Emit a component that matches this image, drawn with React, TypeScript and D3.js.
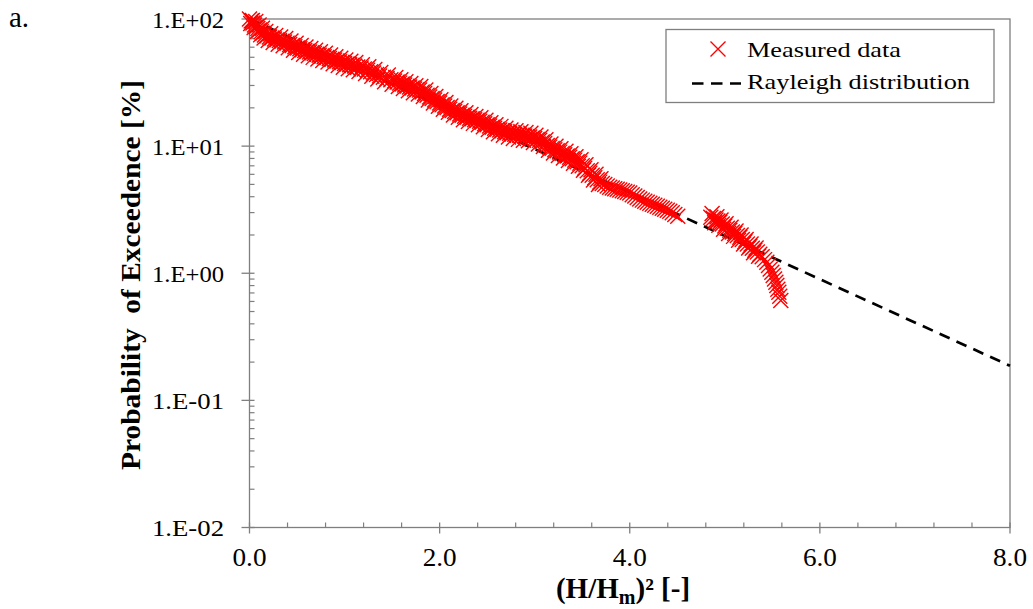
import React from 'react';
import * as d3 from 'd3';

// Measured data, record A: [ (H/Hm)^2 , probability of exceedence % ]
const measuredA: [number, number][] = [
  [0.000,100],[0.018,96.4],[0.036,92.9],[0.053,89.7],[0.071,86.9],[0.088,84.3],[0.105,81.8],[0.123,79.4],[0.140,77.1],[0.158,74.8],
  [0.184,73.5],[0.210,72.1],[0.236,71.0],[0.263,69.7],[0.289,68.7],[0.315,67.8],[0.341,66.8],[0.368,65.9],[0.395,64.6],[0.423,63.1],
  [0.450,61.8],[0.477,60.5],[0.505,59.2],[0.530,58.3],[0.556,57.4],[0.581,56.6],[0.606,55.8],[0.632,55.0],[0.657,54.2],[0.682,53.5],
  [0.707,52.7],[0.733,51.9],[0.758,51.2],[0.785,50.5],[0.813,49.7],[0.840,49.0],[0.867,48.2],[0.895,47.5],[0.921,46.8],[0.947,46.1],
  [0.974,45.4],[1.000,44.7],[1.026,44.2],[1.053,43.7],[1.079,43.2],[1.105,42.7],[1.139,41.9],[1.174,41.1],[1.208,40.4],[1.242,39.6],
  [1.274,38.5],[1.305,37.6],[1.337,36.6],[1.368,35.6],[1.408,34.8],[1.447,34.0],[1.487,33.3],[1.526,32.5],[1.553,31.9],[1.579,31.3],
  [1.606,30.8],[1.632,30.2],[1.658,29.6],[1.684,29.2],[1.711,28.6],[1.737,28.1],[1.763,27.9],[1.789,27.6],[1.816,26.7],[1.842,25.9],
  [1.868,25.1],[1.895,24.3],[1.921,23.7],[1.947,23.1],[1.974,22.4],[2.000,21.8],[2.026,21.2],[2.053,20.7],[2.079,20.1],[2.105,19.5],
  [2.132,19.1],[2.158,18.7],[2.184,18.3],[2.211,17.9],[2.237,17.5],[2.263,17.2],[2.290,16.9],[2.316,16.6],[2.342,16.4],[2.368,16.1],
  [2.395,16.0],[2.421,15.7],[2.447,15.4],[2.474,15.0],[2.500,14.7],[2.526,14.4],[2.553,14.1],[2.579,13.8],[2.606,13.6],[2.632,13.4],
  [2.658,13.2],[2.684,13.0],[2.711,12.8],[2.737,12.6],[2.763,12.5],[2.790,12.4],[2.816,12.3],[2.842,12.2],[2.868,12.1],[2.895,12.0],
  [2.921,11.9],[2.947,11.8],[2.974,11.6],[3.000,11.5],[3.026,11.3],[3.053,11.1],[3.079,10.8],[3.105,10.5],[3.132,10.1],[3.158,9.82],
  [3.184,9.60],[3.211,9.38],[3.237,9.18],[3.263,8.97],[3.289,8.77],[3.316,8.57],[3.342,8.37],[3.368,8.19],[3.395,7.96],[3.421,7.76],
  [3.447,7.55],[3.474,7.35],[3.500,7.02],[3.526,6.70],[3.553,6.41],[3.579,6.12],[3.605,5.89],[3.632,5.65],[3.658,5.43],[3.684,5.21],
  [3.711,5.09],[3.737,4.98],[3.763,4.86],[3.789,4.75],[3.816,4.69],[3.842,4.63],[3.868,4.57],[3.895,4.51],[3.921,4.45],[3.947,4.39],
  [3.974,4.33],[4.000,4.27],[4.026,4.15],[4.053,4.05],[4.079,3.94],[4.105,3.83],[4.132,3.76],[4.158,3.69],[4.184,3.62],[4.211,3.56],
  [4.237,3.49],[4.263,3.43],[4.290,3.37],[4.316,3.31],[4.342,3.25],[4.368,3.19],[4.395,3.13],[4.421,3.08],[4.447,2.99],[4.474,2.90],
  [4.505,2.81],
  [4.853,2.76],[4.880,2.69],[4.907,2.62],[4.927,2.58],[4.947,2.52],[4.973,2.44],[5.000,2.35],[5.026,2.26],[5.053,2.18],[5.079,2.11],
  [5.105,2.05],[5.132,1.98],[5.158,1.92],[5.184,1.84],[5.211,1.77],[5.237,1.70],[5.263,1.63],[5.289,1.57],[5.316,1.52],[5.342,1.47],
  [5.368,1.41],[5.393,1.35],[5.418,1.28],[5.442,1.22],[5.460,1.15],[5.478,1.08],[5.495,1.02],[5.509,0.96],[5.523,0.90],[5.537,0.85],
  [5.547,0.80],[5.558,0.75],[5.568,0.71],[5.578,0.66],[5.589,0.61],
];

// Measured data, record B (overlapping scatter of the band)
const measuredB: [number, number][] = [
  [0.013,92.1],[0.031,97.5],[0.049,85.6],[0.066,95.4],[0.084,80.0],[0.101,89.7],[0.118,75.3],[0.136,84.5],[0.153,71.0],[0.171,79.6],
  [0.197,67.7],[0.223,76.7],[0.249,65.4],[0.276,74.2],[0.302,63.3],[0.328,72.1],[0.354,61.5],[0.381,70.1],[0.408,59.5],[0.436,67.1],
  [0.463,56.9],[0.490,64.4],[0.518,54.5],[0.543,62.0],[0.569,52.9],[0.594,60.2],[0.619,51.4],[0.645,58.5],[0.670,49.9],[0.695,56.9],
  [0.720,48.5],[0.746,55.2],[0.771,47.2],[0.798,53.7],[0.826,45.8],[0.853,52.1],[0.880,44.4],[0.908,50.5],[0.934,43.1],[0.960,49.1],
  [0.987,41.8],[1.013,47.6],[1.039,40.7],[1.066,46.5],[1.092,39.8],[1.118,45.4],[1.152,38.6],[1.187,43.7],[1.221,37.2],[1.255,42.1],
  [1.287,35.5],[1.318,40.0],[1.350,33.7],[1.381,37.9],[1.421,32.1],[1.460,36.2],[1.500,30.7],[1.539,34.6],[1.566,29.4],[1.592,33.3],
  [1.619,28.4],[1.645,32.1],[1.671,27.3],[1.697,31.1],[1.724,26.3],[1.750,29.9],[1.776,25.7],[1.802,29.4],[1.829,24.6],[1.855,27.6],
  [1.881,23.1],[1.908,25.9],[1.934,21.8],[1.960,24.6],[1.987,20.6],[2.013,23.2],[2.039,19.5],[2.066,22.0],[2.092,18.5],[2.118,20.7],
  [2.145,17.6],[2.171,19.9],[2.197,16.9],[2.224,19.0],[2.250,16.1],[2.276,18.3],[2.303,15.6],[2.329,17.7],[2.355,15.1],[2.381,17.1],
  [2.408,14.7],[2.434,16.7],[2.460,14.2],[2.487,16.0],[2.513,13.5],[2.539,15.3],[2.566,13.0],[2.592,14.7],[2.619,12.5],[2.645,14.3],
  [2.671,12.2],[2.697,13.8],[2.724,11.8],[2.750,13.4],[2.776,11.5],[2.803,13.2],[2.829,11.3],[2.855,13.0],[2.881,11.1],[2.908,12.8],
  [2.934,11.0],[2.960,12.6],[2.987,10.7],[3.013,12.2],[3.039,10.4],[3.066,11.8],[3.092,9.95],[3.118,11.2],[3.145,9.30],[3.171,10.4],
  [3.197,8.84],[3.224,9.98],[3.250,8.45],[3.276,9.54],[3.302,8.08],[3.329,9.12],[3.355,7.71],[3.381,8.71],[3.408,7.33],[3.434,8.26],
  [3.460,6.95],[3.487,7.82],[3.513,6.47],[3.539,7.13],[3.566,5.90],[3.592,6.51],[3.618,5.42],[3.645,6.01],[3.671,5.00],[3.697,5.54],
  [4.866,2.95],[4.893,2.50],[4.917,2.78],[4.937,2.38],[4.960,2.62],[4.987,2.22],[5.013,2.45],[5.040,2.05],[5.066,2.30],[5.092,1.95],
  [5.118,2.15],[5.145,1.82],[5.171,2.00],[5.197,1.70],[5.224,1.84],[5.250,1.58],[5.276,1.70],[5.302,1.45],[5.329,1.58],[5.355,1.36],
];

// Rayleigh distribution line (read at the x ticks)
const rayleighX = [0, 2, 4, 6, 8];
const rayleighP = [100, 20.8, 4.32, 0.898, 0.187];

const xTickValues = [0, 2, 4, 6, 8];
const xTickLabels = ['0.0', '2.0', '4.0', '6.0', '8.0'];
const yTickValues = [0.01, 0.1, 1, 10, 100];
const yTickLabels = ['1.E-02', '1.E-01', '1.E+00', '1.E+01', '1.E+02'];
const legendLabels = ['Measured data', 'Rayleigh distribution'];

const W = 1033;
const H = 609;
const left = 249.5;
const right = 1010;
const top = 19;
const bottom = 527.5;
const FONT =
  "'Liberation Serif', 'Times New Roman', Tinos, 'Nimbus Roman', 'Nimbus Roman No9 L', FreeSerif, 'Noto Serif', Times, 'DejaVu Serif', serif";
const AXIS = '#7f7f7f';

export default function App() {
  const x = d3.scaleLinear().domain([0, 8]).range([left, right]);
  const y = d3.scaleLog().domain([0.01, 100]).range([bottom, top]);

  const xMinor = d3.range(0, 8.0001, 0.4).filter((v) => Math.abs(v / 2 - Math.round(v / 2)) > 1e-6);
  const yMinor: number[] = [];
  for (let e = -2; e < 2; e++) for (let m = 2; m <= 9; m++) yMinor.push(m * Math.pow(10, e));

  const line = d3
    .line<number>()
    .x((_, i) => x(rayleighX[i]))
    .y((_, i) => y(rayleighP[i]));

  const s = 7.5;
  const cross = (cx: number, cy: number, k: string | number) => (
    <path
      key={k}
      d={`M${cx - s},${cy - s}L${cx + s},${cy + s}M${cx - s},${cy + s}L${cx + s},${cy - s}`}
      stroke="#ff0000"
      strokeWidth={1.4}
      fill="none"
    />
  );

  const tf = { fontFamily: FONT };

  return (
    <svg width={W} height={H} style={{ position: 'absolute', left: 0, top: 0, background: '#fff', fontFamily: FONT }}>
      <rect x={0} y={0} width={W} height={H} fill="#fff" />
      <text x={9} y={27} fontSize={29} fill="#000" style={tf}>a.</text>

      {/* frame */}
      <rect x={left} y={top} width={right - left} height={bottom - top} fill="none" stroke={AXIS} strokeWidth={1.3} />

      {/* y ticks */}
      {yTickValues.map((v, i) => (
        <g key={'yt' + i}>
          <line x1={left - 8} x2={left + 5} y1={y(v)} y2={y(v)} stroke={AXIS} strokeWidth={1.3} />
          <text x={224} y={y(v) + 8.7} fontSize={23} textAnchor="end" textLength={72} lengthAdjust="spacingAndGlyphs" style={tf}>
            {yTickLabels[i]}
          </text>
        </g>
      ))}
      {yMinor.map((v, i) => (
        <line key={'ym' + i} x1={left} x2={left + 5} y1={y(v)} y2={y(v)} stroke={AXIS} strokeWidth={1.2} />
      ))}

      {/* x ticks */}
      {xTickValues.map((v, i) => (
        <g key={'xt' + i}>
          <line x1={x(v)} x2={x(v)} y1={bottom - 5} y2={bottom + 6} stroke={AXIS} strokeWidth={1.3} />
          <text x={x(v)} y={566} fontSize={25} textAnchor="middle" textLength={34} lengthAdjust="spacingAndGlyphs" style={tf}>
            {xTickLabels[i]}
          </text>
        </g>
      ))}
      {xMinor.map((v, i) => (
        <line key={'xm' + i} x1={x(v)} x2={x(v)} y1={bottom - 5} y2={bottom} stroke={AXIS} strokeWidth={1.2} />
      ))}

      {/* Rayleigh line */}
      <path d={line(rayleighX) || ''} fill="none" stroke="#000" strokeWidth={2.7} strokeDasharray="11 7.5" />

      {/* measured data */}
      {measuredA.map((d, i) => cross(x(d[0]), y(d[1]), 'a' + i))}
      {measuredB.map((d, i) => cross(x(d[0]), y(d[1]), 'b' + i))}

      {/* axis titles */}
      <text
        transform="translate(140,275) rotate(-90)"
        textAnchor="middle"
        fontWeight="bold"
        fontSize={28}
        textLength={390}
        lengthAdjust="spacingAndGlyphs"
        style={{ whiteSpace: 'pre', fontFamily: FONT }}
      >
        Probability  of Exceedence [%]
      </text>
      <text x={623} y={598} textAnchor="middle" fontWeight="bold" fontSize={29} style={tf}>
        (H/H<tspan fontSize={20} dy={6}>m</tspan>
        <tspan dy={-6}>)² [-]</tspan>
      </text>

      {/* legend */}
      <rect x={666} y={29.5} width={328} height={73} fill="#fff" stroke={AXIS} strokeWidth={1.3} />
      {cross(718, 49, 'leg')}
      <text x={747} y={57} fontSize={22} textLength={154} lengthAdjust="spacingAndGlyphs" style={tf}>
        {legendLabels[0]}
      </text>
      <line x1={692} x2={741} y1={83.5} y2={83.5} stroke="#000" strokeWidth={2.7} strokeDasharray="11.5 7.5" />
      <text x={747} y={88.5} fontSize={22} textLength={223} lengthAdjust="spacingAndGlyphs" style={tf}>
        {legendLabels[1]}
      </text>
    </svg>
  );
}
